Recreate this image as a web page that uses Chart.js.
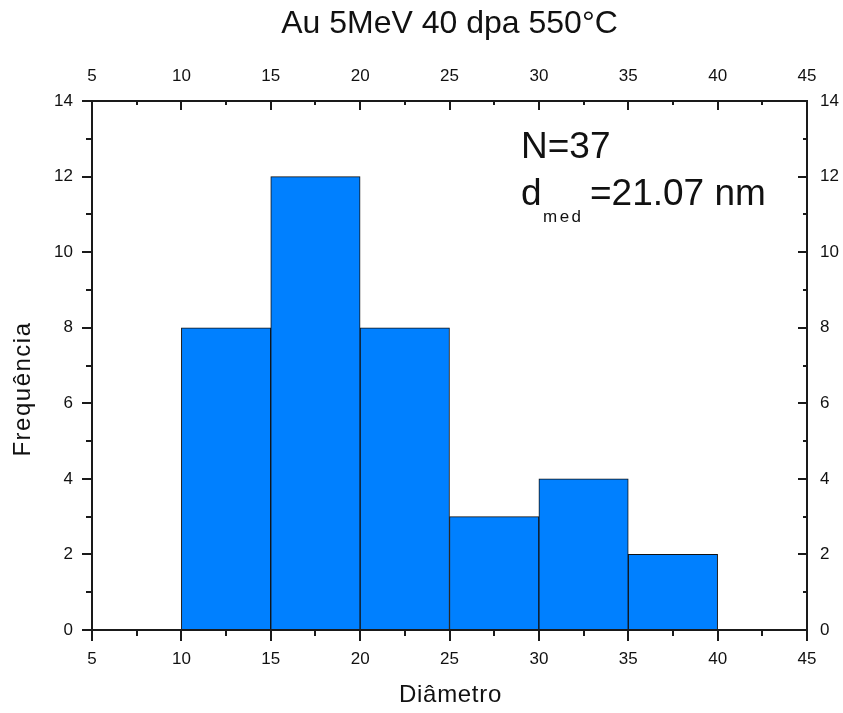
<!DOCTYPE html>
<html>
<head>
<meta charset="utf-8">
<script src="https://cdn.jsdelivr.net/npm/chart.js@4/dist/chart.umd.min.js"></script>
<style>
  html, body { margin: 0; padding: 0; background: #fff; }
  #wrap { width: 843px; height: 713px; }
</style>
</head>
<body>
<div id="wrap"><canvas id="c" width="843" height="713"></canvas></div>
<script>
// Histogram bins (diameter, nm) and counts per bin
const binEdges = [10, 15, 20, 25, 30, 35, 40];
const counts = [8, 12, 8, 3, 4, 2];
// Axis ranges
const xRange = [5, 45];
const yRange = [0, 14];
const xStep = 5;
const yStep = 2;
// Texts
const titleText = 'Au 5MeV 40 dpa 550°C';
const xTitle = 'Diâmetro';
const yTitle = 'Frequência';
const nLabel = 'N=37';
const dMain = 'd';
const dSub = 'med';
const dValue = '=21.07 nm';

const FONT = "'Liberation Sans', Arial, sans-serif";
const INK = '#1a1a1a';

const barData = counts.map((c, i) => ({ x: (binEdges[i] + binEdges[i + 1]) / 2, y: c }));

// Tick marks: outward on bottom/left, inward on top/right, with minor ticks halfway
const tickMarks = {
  id: 'tickMarks',
  afterDraw(chart) {
    const { ctx, chartArea: a, scales } = chart;
    ctx.save();
    ctx.strokeStyle = INK;
    ctx.lineWidth = 2;
    const line = (x1, y1, x2, y2) => { ctx.beginPath(); ctx.moveTo(x1, y1); ctx.lineTo(x2, y2); ctx.stroke(); };
    const withMinor = (scale) => {
      const vals = scale.ticks.map(t => t.value);
      const out = [];
      vals.forEach((v, i) => {
        out.push({ v, major: true });
        if (i < vals.length - 1) out.push({ v: (v + vals[i + 1]) / 2, major: false });
      });
      return out;
    };
    withMinor(scales.x).forEach(t => {
      const px = Math.round(scales.x.getPixelForValue(t.v));
      line(px, a.bottom, px, a.bottom + (t.major ? 11 : 6));
    });
    withMinor(scales.x2).forEach(t => {
      const px = Math.round(scales.x2.getPixelForValue(t.v));
      line(px, a.top, px, a.top + (t.major ? 9 : 4));
    });
    withMinor(scales.y).forEach(t => {
      const py = Math.round(scales.y.getPixelForValue(t.v));
      line(a.left, py, a.left - (t.major ? 10 : 6), py);
    });
    withMinor(scales.y2).forEach(t => {
      const py = Math.round(scales.y2.getPixelForValue(t.v));
      line(a.right, py, a.right - (t.major ? 9 : 4), py);
    });
    ctx.restore();
  }
};

// Title, axis titles and the N / d_med annotation
const texts = {
  id: 'texts',
  afterDraw(chart) {
    const { ctx, chartArea: a } = chart;
    ctx.save();
    ctx.fillStyle = '#111';
    ctx.textBaseline = 'alphabetic';
    ctx.textAlign = 'center';
    ctx.font = `32px ${FONT}`;
    ctx.fillText(titleText, (a.left + a.right) / 2, 33);

    // axis titles, slightly letter-spaced
    ctx.font = `24px ${FONT}`;
    ctx.letterSpacing = '0.7px';
    ctx.fillText(xTitle, (a.left + a.right) / 2 + 1, 702);
    ctx.save();
    ctx.translate(30, 389);
    ctx.rotate(-Math.PI / 2);
    ctx.letterSpacing = '1.5px';
    ctx.fillText(yTitle, 0, 0);
    ctx.restore();
    ctx.letterSpacing = '0px';

    ctx.textAlign = 'left';
    ctx.font = `37px ${FONT}`;
    ctx.fillText(nLabel, 521, 158);
    ctx.fillText(dMain, 521, 205);
    ctx.fillText(dValue, 590, 205);
    ctx.font = `17px ${FONT}`;
    ctx.letterSpacing = '2.5px';
    ctx.fillText(dSub, 543, 222);
    ctx.restore();
  }
};

const tickFont = { family: FONT, size: 17 };
const axisBorder = { display: true, color: INK, width: 2, z: 1 };

new Chart(document.getElementById('c'), {
  type: 'bar',
  data: {
    datasets: [{
      data: barData,
      backgroundColor: '#0080ff',
      borderColor: '#111',
      borderWidth: 1,
      borderSkipped: false,
      barPercentage: 1,
      categoryPercentage: 1,
      xAxisID: 'x',
      yAxisID: 'y'
    }]
  },
  options: {
    responsive: false,
    animation: false,
    layout: { padding: 0 },
    plugins: { legend: { display: false }, tooltip: { enabled: false }, title: { display: false } },
    scales: {
      x: {
        type: 'linear', position: 'bottom', min: xRange[0], max: xRange[1], offset: false,
        ticks: { stepSize: xStep, font: tickFont, color: '#111', padding: 19, maxRotation: 0 },
        grid: { display: false, drawTicks: false, offset: false },
        border: axisBorder,
        afterFit(s) { s.height = 83; }
      },
      x2: {
        type: 'linear', position: 'top', min: xRange[0], max: xRange[1], display: true, offset: false,
        ticks: { stepSize: xStep, font: tickFont, color: '#111', padding: 14, maxRotation: 0 },
        grid: { display: false, drawTicks: false },
        border: axisBorder,
        afterFit(s) { s.height = 101; }
      },
      y: {
        type: 'linear', position: 'left', min: yRange[0], max: yRange[1],
        ticks: { stepSize: yStep, font: tickFont, color: '#111', padding: 19 },
        grid: { display: false, drawTicks: false },
        border: axisBorder,
        afterFit(s) { s.width = 92; }
      },
      y2: {
        type: 'linear', position: 'right', min: yRange[0], max: yRange[1], display: true,
        ticks: { stepSize: yStep, font: tickFont, color: '#111', padding: 13 },
        grid: { display: false, drawTicks: false },
        border: axisBorder,
        afterFit(s) { s.width = 36; }
      }
    }
  },
  plugins: [tickMarks, texts]
});
</script>
</body>
</html>
